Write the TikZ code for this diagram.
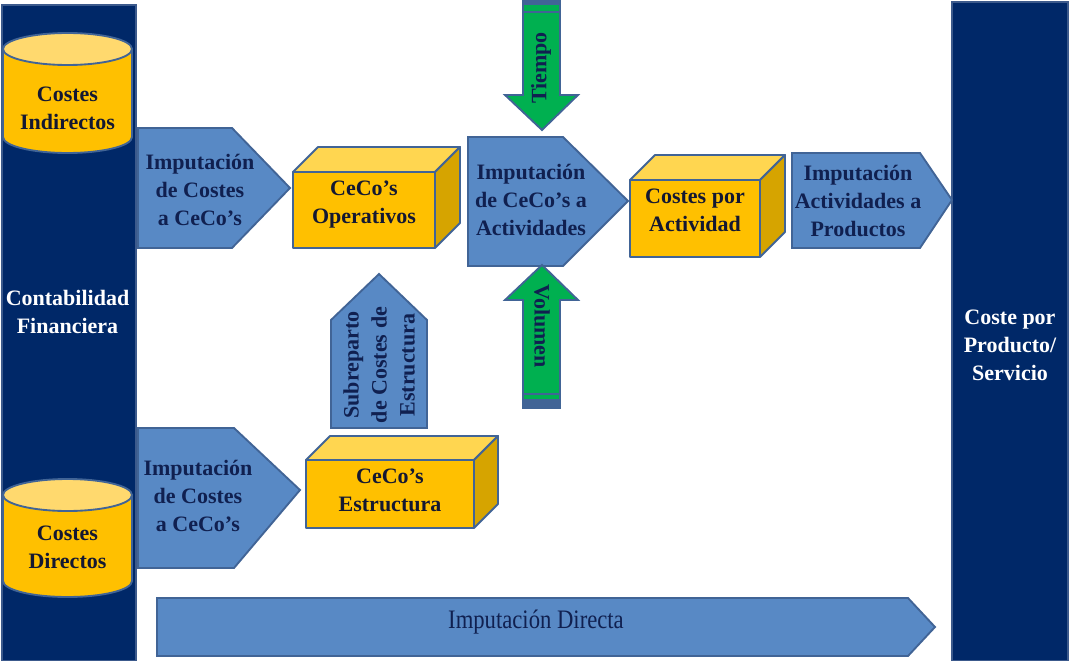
\documentclass[tikz,border=0pt]{standalone}
\usepackage{fontspec}
\setmainfont{Liberation Serif}
\newfontfamily\condfont[FakeStretch=0.85]{Liberation Serif}
\definecolor{navy}{RGB}{0,40,104}
\definecolor{navyline}{RGB}{60,90,140}
\definecolor{blk}{RGB}{88,137,197}
\definecolor{blkline}{RGB}{65,100,150}
\definecolor{yfront}{RGB}{255,192,0}
\definecolor{ytop}{RGB}{255,214,80}
\definecolor{yside}{RGB}{214,164,0}
\definecolor{ylid}{RGB}{255,217,110}
\definecolor{grn}{RGB}{0,176,80}
\definecolor{txtnavy}{RGB}{16,32,80}
\definecolor{txtdark}{RGB}{20,24,50}
\newcommand{\drawcube}[5]{%
  \filldraw[cubeline, fill=ytop] (#1,#2) -- (#1+#5,#2-#5) -- (#3+#5,#2-#5) -- (#3,#2) -- cycle;
  \filldraw[cubeline, fill=yside] (#3,#2) -- (#3+#5,#2-#5) -- (#3+#5,#4-#5) -- (#3,#4) -- cycle;
  \filldraw[cubeline, fill=yfront] (#1,#2) rectangle (#3,#4);}
\tikzset{
  column/.style={fill=navy, draw=navyline, line width=1.2pt},
  blkarrow/.style={fill=blk, draw=blkline, line width=1.4pt, line join=miter},
  grnarrow/.style={fill=grn, draw=blkline, line width=1.4pt, line join=miter},
  cubeline/.style={draw=blkline, line width=1.4pt, line join=round},
  cyl/.style={draw=blkline, line width=1.4pt},
  lbl/.style={font=\fontsize{16.5}{21}\selectfont\bfseries, align=center, text=txtnavy, inner sep=0pt},
  ylbl/.style={lbl, text=txtdark},
  wlbl/.style={lbl, text=white},
}
\begin{document}
\begin{tikzpicture}[x=0.75pt,y=-0.75pt]
\useasboundingbox (0,0) rectangle (1070,660);
% columns
\filldraw[column] (2,5) rectangle (136,661);
\filldraw[column] (952,2) rectangle (1068,661);
% cylinders
\filldraw[cyl, fill=yfront] (3,49) -- (3,137) arc[start angle=180, end angle=360, x radius=48.375pt, y radius=12pt] -- (132,49) -- cycle;
\filldraw[cyl, fill=ylid] (67.5,49) ellipse [x radius=48.375pt, y radius=12pt];
\filldraw[cyl, fill=yfront] (3,495) -- (3,581) arc[start angle=180, end angle=360, x radius=48.375pt, y radius=12pt] -- (132,581) -- (132,495) -- cycle;
\filldraw[cyl, fill=ylid] (67.5,495) ellipse [x radius=48.375pt, y radius=12pt];
\node[ylbl] (ci) at (67.5,108) {Costes\\Indirectos};
\node[ylbl] (cd) at (67.5,547) {Costes\\Directos};
\node[wlbl] (cf) at (67.5,312) {Contabilidad\\Financiera};
\node[wlbl] (cp) at (1010,345) {Coste por\\Producto/\\Servicio};
% blue arrows
\filldraw[blkarrow] (138,128) -- (232,128) -- (290,188) -- (232,248) -- (138,248) -- cycle;
\node[lbl] (a1) at (200,190) {Imputación\\de Costes\\a CeCo’s};
\filldraw[blkarrow] (138,428) -- (234,428) -- (300,490) -- (234,568) -- (138,568) -- cycle;
\node[lbl] (a2) at (198,496) {Imputación\\de Costes\\a CeCo’s};
\filldraw[blkarrow] (468,137) -- (563,137) -- (628,201) -- (563,266) -- (468,266) -- cycle;
\node[lbl] (a3) at (531,200) {Imputación\\de CeCo’s a\\Actividades};
\filldraw[blkarrow] (792,153) -- (920,153) -- (952,200) -- (920,248) -- (792,248) -- cycle;
\node[lbl] (a4) at (858,201) {Imputación\\Actividades a\\Productos};
\filldraw[blkarrow] (331,428) -- (331,320) -- (379,274) -- (427,320) -- (427,428) -- cycle;
\node[lbl, rotate=90] (a5) at (379,365) {Subreparto\\de Costes de\\Estructura};
\filldraw[blkarrow] (157,598) -- (908,598) -- (935,627) -- (908,656) -- (157,656) -- cycle;
\node[lbl, font=\fontsize{20}{22}\condfont] (a6) at (536,622) {Imputación Directa};
% green arrows
\filldraw[grnarrow] (523,-2) -- (560,-2) -- (560,95) -- (578,95) -- (542,130) -- (505,95) -- (523,95) -- cycle;
\fill[blkline] (523,-2) rectangle (560,5);
\draw[blkline, line width=1.2pt] (523,12) -- (560,12);
\node[lbl, rotate=90] (ti) at (541,68) {Tiempo};
\filldraw[grnarrow] (523,408) -- (560,408) -- (560,300) -- (578,300) -- (542,265) -- (505,300) -- (523,300) -- cycle;
\fill[blkline] (523,399) rectangle (560,408);
\draw[blkline, line width=1.2pt] (523,394) -- (560,394);
\node[lbl, rotate=-90] (vo) at (542,326) {Volumen};
% cubes
\drawcube{293}{172}{435}{248}{25}
\node[ylbl] (b1) at (364,205) {CeCo’s\\Operativos};
\drawcube{630}{180}{760}{257}{25}
\node[ylbl] (b2) at (695,210) {Costes por\\Actividad};
\drawcube{306}{460}{474}{528}{24}
\node[ylbl] (b3) at (390,490) {CeCo’s\\Estructura};
\end{tikzpicture}
\end{document}
